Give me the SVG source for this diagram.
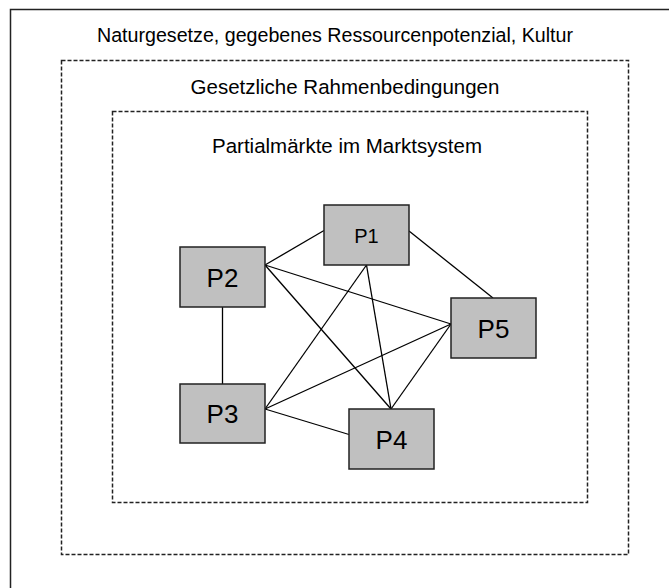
<svg xmlns="http://www.w3.org/2000/svg" width="669" height="588" viewBox="0 0 669 588">
<style>
.frame{fill:none;stroke:#222;stroke-width:1.5}
.dash{fill:none;stroke:#222;stroke-width:1.5;stroke-dasharray:4 2}
.lbl{font-family:"Liberation Sans",Arial,sans-serif;font-size:20.5px;fill:#000;text-anchor:middle}
.box{fill:#c0c0c0;stroke:#222;stroke-width:1.5}
.nt{font-family:"Liberation Sans",Arial,sans-serif;font-size:26px;fill:#000;text-anchor:middle}
.edge{stroke:#000;stroke-width:1.3;fill:none}
</style>
<rect width="669" height="588" fill="#fff"/>
<g id="frame-outer">
<rect class="frame" x="10.5" y="9.5" width="700" height="620"/>
<text class="lbl" x="335" y="42" textLength="476" lengthAdjust="spacingAndGlyphs">Naturgesetze, gegebenes Ressourcenpotenzial, Kultur</text>
</g>
<g id="frame-middle">
<rect class="dash" x="61.5" y="60.5" width="567" height="494"/>
<text class="lbl" x="345" y="94">Gesetzliche Rahmenbedingungen</text>
</g>
<g id="frame-inner">
<rect class="dash" x="112.5" y="111.5" width="475" height="391"/>
<text class="lbl" x="347" y="153">Partialmärkte im Marktsystem</text>
</g>
<g id="connectors">
<line class="edge" x1="265" y1="265" x2="324" y2="230.5"/>
<line class="edge" x1="409" y1="231" x2="493" y2="298"/>
<line class="edge" x1="222.5" y1="307" x2="222.5" y2="384"/>
<line class="edge" x1="265" y1="265" x2="451" y2="324"/>
<line class="edge" x1="265" y1="265" x2="391" y2="409"/>
<line class="edge" x1="366.5" y1="265" x2="265" y2="409"/>
<line class="edge" x1="366.5" y1="265" x2="391" y2="409"/>
<line class="edge" x1="265" y1="409" x2="451" y2="324"/>
<line class="edge" x1="451" y1="324" x2="391" y2="409"/>
<line class="edge" x1="265" y1="409" x2="349" y2="434.5"/>
</g>
<g id="P1">
<rect class="box" x="324" y="205" width="85" height="60"/>
<text class="nt" x="366.5" y="243" style="font-size:20px">P1</text>
</g>
<g id="P2">
<rect class="box" x="180" y="247" width="85" height="60"/>
<text class="nt" x="222.5" y="286.5">P2</text>
</g>
<g id="P3">
<rect class="box" x="180" y="384" width="85" height="59"/>
<text class="nt" x="222.5" y="423">P3</text>
</g>
<g id="P4">
<rect class="box" x="349" y="409" width="85" height="60"/>
<text class="nt" x="391.5" y="449">P4</text>
</g>
<g id="P5">
<rect class="box" x="451" y="298" width="85" height="60"/>
<text class="nt" x="493.5" y="338">P5</text>
</g>
</svg>
